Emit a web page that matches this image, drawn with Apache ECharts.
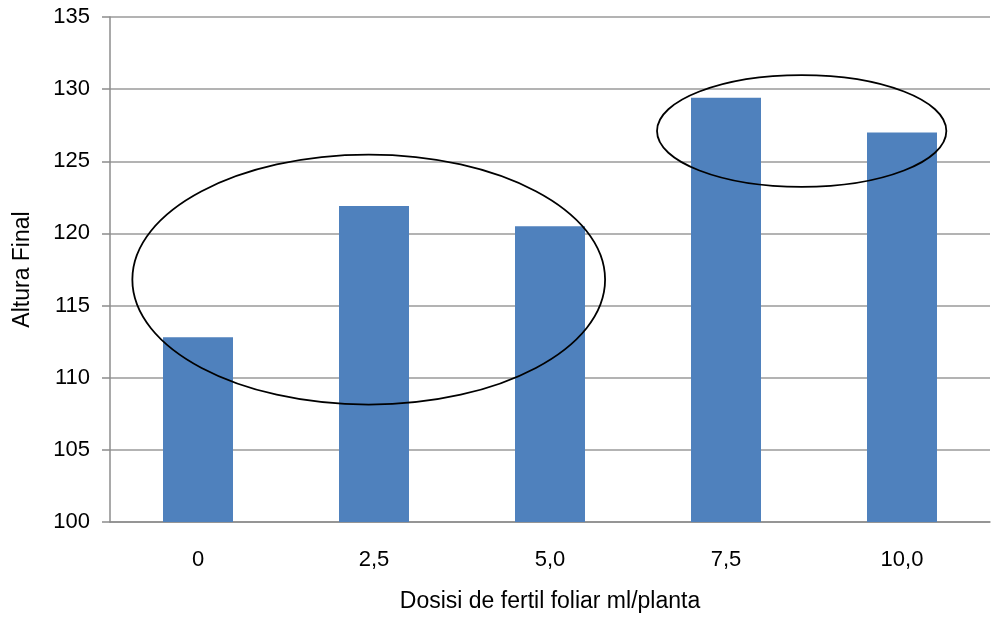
<!DOCTYPE html>
<html>
<head>
<meta charset="utf-8">
<script src="https://cdn.jsdelivr.net/npm/echarts@6/dist/echarts.min.js"></script>
<style>
  html, body { margin: 0; padding: 0; background: #fff; }
  #chart { width: 992px; height: 620px; }
</style>
</head>
<body>
<div id="chart"></div>
<script>
// Dose levels (ml/planta) and mean final height
const categories = ['0', '2,5', '5,0', '7,5', '10,0'];
const alturaFinal = [112.8, 121.9, 120.5, 129.4, 127.0];

// Groupings highlighted by ellipses: centre (category index, value) and radii (categories, value units)
const groupEllipses = [
  { cx: 0.97, cy: 116.8, rx: 1.343, ry: 8.66 },
  { cx: 3.43, cy: 127.1, rx: 0.822, ry: 3.87 }
];

const FONT = '"Liberation Sans", Arial, sans-serif';
const chart = echarts.init(document.getElementById('chart'));

chart.setOption({
  animation: false,
  backgroundColor: '#fff',
  grid: { left: 110, right: 2, top: 17, bottom: 98 },
  xAxis: {
    type: 'category',
    data: categories,
    name: 'Dosisi de fertil foliar ml/planta',
    nameLocation: 'middle',
    nameGap: 68,
    nameTextStyle: { fontFamily: FONT, fontSize: 23, color: '#000' },
    axisLine: { lineStyle: { color: '#8c8c8c', width: 1.5 } },
    axisTick: { show: false },
    axisLabel: { fontFamily: FONT, fontSize: 22, color: '#000', margin: 27 }
  },
  yAxis: {
    type: 'value',
    min: 100,
    max: 135,
    interval: 5,
    name: 'Altura Final',
    nameLocation: 'middle',
    nameGap: 76,
    nameTextStyle: { fontFamily: FONT, fontSize: 23, color: '#000' },
    axisLine: { show: true, lineStyle: { color: '#8c8c8c', width: 1.5 } },
    axisTick: { show: true, length: 8, lineStyle: { color: '#8c8c8c', width: 1.5 } },
    axisLabel: { fontFamily: FONT, fontSize: 22, color: '#000', margin: 20 },
    splitLine: { lineStyle: { color: '#9a9a9a', width: 1.5 } }
  },
  series: [{
    type: 'bar',
    data: alturaFinal,
    barWidth: 70,
    itemStyle: { color: '#4f81bd' }
  }]
});

// Place the grouping ellipses in data space
function drawEllipses() {
  const step = chart.convertToPixel({ xAxisIndex: 0 }, 1) - chart.convertToPixel({ xAxisIndex: 0 }, 0);
  const perUnit = chart.convertToPixel({ yAxisIndex: 0 }, 100) - chart.convertToPixel({ yAxisIndex: 0 }, 101);
  const x0 = chart.convertToPixel({ xAxisIndex: 0 }, 0);
  const elements = groupEllipses.map(function (e, i) {
    return {
      type: 'ellipse',
      id: 'grp' + i,
      z: 100,
      silent: true,
      shape: {
        cx: x0 + e.cx * step,
        cy: chart.convertToPixel({ yAxisIndex: 0 }, e.cy),
        rx: e.rx * step,
        ry: e.ry * perUnit
      },
      style: { fill: null, stroke: '#000', lineWidth: 1.8 }
    };
  });
  chart.setOption({ graphic: elements });
}
drawEllipses();
</script>
</body>
</html>
